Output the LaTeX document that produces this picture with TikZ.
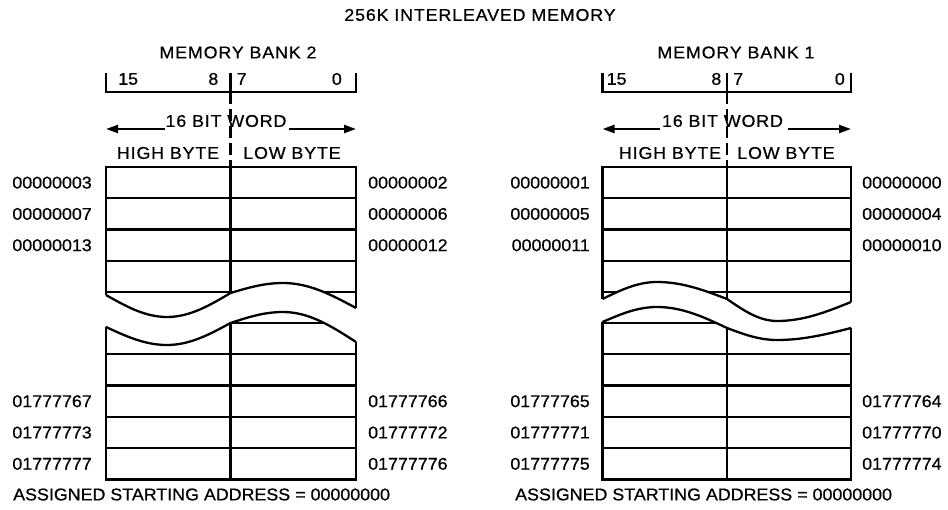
\documentclass[tikz,border=0pt]{standalone}
\usepackage{fontspec}
\setmainfont{Liberation Sans}[FakeStretch=1.05,FakeBold=0.6]
\newfontfamily\widefont{Liberation Sans}[FakeStretch=1.05,LetterSpace=5,FakeBold=0.6]
\usetikzlibrary{arrows.meta}
\newcommand\bankgrid[3]{%
  \draw[ln] (#1,167) rectangle (#3,479.5);
  \draw[ln] (#2,167) -- (#2,479.5);
  \foreach \yy in {198.3,229.6,260.9,292.2,323,354.3,385.6,416.9,448.2}
    \draw[ln] (#1,\yy) -- (#3,\yy);
}
\begin{document}
\begin{tikzpicture}[x=1pt,y=-1pt,
  ln/.style={line width=2.3pt},
  lab/.style={inner sep=0pt, font=\fontsize{17}{20}\selectfont},
  hdr/.style={inner sep=0pt, font=\widefont\fontsize{17}{20}\selectfont},
  arr/.style={ln, -{Triangle[length=12pt,width=8pt]}},
  dsh/.style={ln, dash pattern=on 12pt off 5pt}]
\useasboundingbox (0,0) rectangle (948,510);

\node[hdr] (title) at (480,15) {256K INTERLEAVED MEMORY};

% ================= BANK 2 =================
\node[hdr] (mb2) at (238,52.5) {MEMORY BANK 2};
\draw[ln] (106,73) -- (106,92) -- (356,92) -- (356,73);
\draw[ln] (230.5,73) -- (230.5,92);
\node[lab,anchor=west] (b2n15) at (118,79) {15};
\node[lab,anchor=east] (b2n8) at (218.5,79) {8};
\node[lab,anchor=west] (b2n7) at (236.5,79) {7};
\node[lab,anchor=east] (b2n0) at (342,79) {0};
\coordinate (b2dt) at (230.5,92);
\coordinate (b2db) at (230.5,167);
\draw[dsh] (b2dt) -- (b2db);

\node[hdr] (w2) at (226,121) {16 BIT WORD};
\coordinate (w2la) at (165,129);
\coordinate (w2lb) at (106,129);
\coordinate (w2ra) at (289,129);
\coordinate (w2rb) at (356,129);
\draw[arr] (w2la) -- (w2lb);
\draw[arr] (w2ra) -- (w2rb);
\node[hdr] (hb2) at (168,153) {HIGH BYTE};
\node[hdr] (lb2) at (292,153) {LOW BYTE};

\begin{scope}
  \clip (98,160) -- (98,295) -- (106,295) sin (167,317) cos (230.5,293) sin (283,283) cos (356,308) -- (364,308) -- (364,160) -- cycle;
  \bankgrid{106}{230.5}{356}
\end{scope}
\begin{scope}
  \clip (98,327) -- (106,327) sin (167,345) cos (230.5,323) sin (283,312) cos (356,342) -- (364,342) -- (364,490) -- (98,490) -- cycle;
  \bankgrid{106}{230.5}{356}
\end{scope}
\draw[ln] (106,295) sin (167,317) cos (230.5,293) sin (283,283) cos (356,308);
\draw[ln] (106,327) sin (167,345) cos (230.5,323) sin (283,312) cos (356,342);

\node[lab,anchor=east] (a2l1) at (92,182.65) {00000003};
\node[lab,anchor=east] (a2l2) at (92,213.95) {00000007};
\node[lab,anchor=east] (a2l3) at (92,245.25) {00000013};
\node[lab,anchor=west] (a2r1) at (368,182.65) {00000002};
\node[lab,anchor=west] (a2r2) at (368,213.95) {00000006};
\node[lab,anchor=west] (a2r3) at (368,245.25) {00000012};
\node[lab,anchor=east] (a2l4) at (92,401.25) {01777767};
\node[lab,anchor=east] (a2l5) at (92,432.55) {01777773};
\node[lab,anchor=east] (a2l6) at (92,463.85) {01777777};
\node[lab,anchor=west] (a2r4) at (368,401.25) {01777766};
\node[lab,anchor=west] (a2r5) at (368,432.55) {01777772};
\node[lab,anchor=west] (a2r6) at (368,463.85) {01777776};
\node[lab,anchor=west] (as2) at (13,494.5) {ASSIGNED STARTING ADDRESS = 00000000};

% ================= BANK 1 =================
\node[hdr] (mb1) at (736,52.5) {MEMORY BANK 1};
\draw[ln] (602.5,73) -- (602.5,92) -- (851,92) -- (851,73);
\draw[ln] (727,73) -- (727,92);
\node[lab,anchor=west] (b1n15) at (606.5,79) {15};
\node[lab,anchor=east] (b1n8) at (721.5,79) {8};
\node[lab,anchor=west] (b1n7) at (733,79) {7};
\node[lab,anchor=east] (b1n0) at (845,79) {0};
\coordinate (b1dt) at (727,92);
\coordinate (b1db) at (727,167);
\draw[dsh] (b1dt) -- (b1db);

\node[hdr] (w1) at (722.5,121) {16 BIT WORD};
\coordinate (w1la) at (660,129);
\coordinate (w1lb) at (602.5,129);
\coordinate (w1ra) at (788,129);
\coordinate (w1rb) at (851,129);
\draw[arr] (w1la) -- (w1lb);
\draw[arr] (w1ra) -- (w1rb);
\node[hdr] (hb1) at (670,153) {HIGH BYTE};
\node[hdr] (lb1) at (786,153) {LOW BYTE};

\begin{scope}
  \clip (594,160) -- (594,299) -- (602.5,299) sin (657,282) cos (727,299) sin (777,321) cos (851,302) -- (859,302) -- (859,160) -- cycle;
  \bankgrid{602.5}{727}{851}
\end{scope}
\begin{scope}
  \clip (594,322) -- (602.5,322) sin (657,307) cos (727,328) sin (777,340) cos (851,328) -- (859,328) -- (859,490) -- (594,490) -- cycle;
  \bankgrid{602.5}{727}{851}
\end{scope}
\draw[ln] (602.5,299) sin (657,282) cos (727,299) sin (777,321) cos (851,302);
\draw[ln] (602.5,322) sin (657,307) cos (727,328) sin (777,340) cos (851,328);

\node[lab,anchor=east] (a1l1) at (590,182.65) {00000001};
\node[lab,anchor=east] (a1l2) at (590,213.95) {00000005};
\node[lab,anchor=east] (a1l3) at (590,245.25) {00000011};
\node[lab,anchor=west] (a1r1) at (862,182.65) {00000000};
\node[lab,anchor=west] (a1r2) at (862,213.95) {00000004};
\node[lab,anchor=west] (a1r3) at (862,245.25) {00000010};
\node[lab,anchor=east] (a1l4) at (590,401.25) {01777765};
\node[lab,anchor=east] (a1l5) at (590,432.55) {01777771};
\node[lab,anchor=east] (a1l6) at (590,463.85) {01777775};
\node[lab,anchor=west] (a1r4) at (862,401.25) {01777764};
\node[lab,anchor=west] (a1r5) at (862,432.55) {01777770};
\node[lab,anchor=west] (a1r6) at (862,463.85) {01777774};
\node[lab,anchor=west] (as1) at (515,494.5) {ASSIGNED STARTING ADDRESS = 00000000};
\end{tikzpicture}
\end{document}
